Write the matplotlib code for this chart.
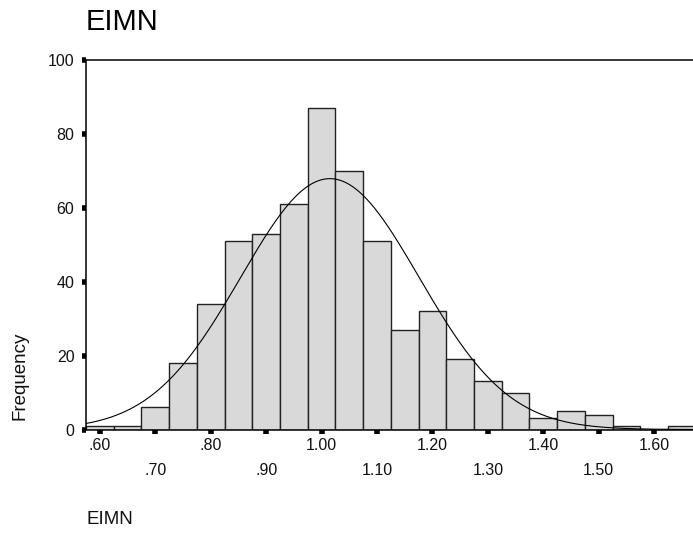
import numpy as np
import matplotlib
matplotlib.use("Agg")
import matplotlib.pyplot as plt

plt.rcParams["font.family"] = ["Liberation Sans", "DejaVu Sans"]

# ── Data ────────────────────────────────────────────────────────────────────
bin_centers = [0.60, 0.65, 0.70, 0.75, 0.80, 0.85, 0.90, 0.95, 1.00, 1.05, 1.10,
               1.15, 1.20, 1.25, 1.30, 1.35, 1.40, 1.45, 1.50, 1.55, 1.60, 1.65]
counts = [1, 1, 6, 18, 34, 51, 53, 61, 87, 70, 51,
          27, 32, 19, 13, 10, 3, 5, 4, 1, 0, 1]
BIN_W = 0.05

# normal curve parameters (SPSS overlay)
MEAN = 1.015
SD = 0.161
N = 548

major_ticks = [0.60, 0.80, 1.00, 1.20, 1.40, 1.60]
major_labels = [".60", ".80", "1.00", "1.20", "1.40", "1.60"]
minor_ticks = [0.70, 0.90, 1.10, 1.30, 1.50]
minor_labels = [".70", ".90", "1.10", "1.30", "1.50"]
y_ticks = [0, 20, 40, 60, 80, 100]

# ── Figure ──────────────────────────────────────────────────────────────────
W, H = 693, 533
fig = plt.figure(figsize=(W / 100, H / 100), dpi=100)
ax = fig.add_axes([86 / W, 103.5 / H, (W - 86) / W, 369.5 / H])

ax.bar(bin_centers, counts, width=BIN_W, color="#d9d9d9",
       edgecolor="#222222", linewidth=1.0, zorder=2)

xs = np.linspace(0.56, 1.70, 400)
ys = N * BIN_W / (SD * np.sqrt(2 * np.pi)) * np.exp(-0.5 * ((xs - MEAN) / SD) ** 2)
ax.plot(xs, ys, color="black", lw=0.8, zorder=3)

ax.set_xlim(0.575, 0.575 + (W - 86) / 554.3)
ax.set_ylim(0, 100)

ax.set_xticks(major_ticks, labels=major_labels)
ax.set_xticks(minor_ticks, labels=minor_labels, minor=True)
ax.set_yticks(y_ticks)

ax.tick_params(axis="both", which="both", direction="out", color="black",
               length=2.6, width=4.0, labelsize=11.5, labelcolor="#111111")
ax.tick_params(axis="x", which="major", pad=3.3)
ax.tick_params(axis="x", which="minor", pad=21.3)
ax.tick_params(axis="y", pad=5.7)

for side in ["left", "top", "bottom"]:
    ax.spines[side].set_linewidth(1.1)
    ax.spines[side].set_color("black")
ax.spines["right"].set_visible(False)

fig.text(86 / W, 1 - 22 / H, "EIMN", fontsize=21, ha="left", va="center")
fig.text(86 / W, 13 / H, "EIMN", fontsize=13.5, ha="left", va="center",
         color="#111111")
fig.text(20 / W, 1 - 376 / H, "Frequency", fontsize=13.5, rotation=90,
         ha="center", va="center", color="#111111")

fig.savefig("out.png", dpi=100)
